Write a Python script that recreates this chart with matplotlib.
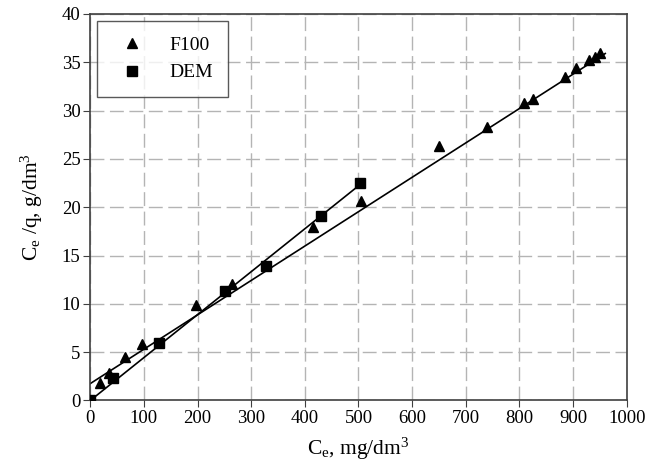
import matplotlib
matplotlib.use("Agg")
import matplotlib.pyplot as plt

plt.rcParams['font.family'] = ['Liberation Serif', 'DejaVu Serif']
plt.rcParams['mathtext.fontset'] = 'custom'
plt.rcParams['mathtext.rm'] = 'Liberation Serif'
plt.rcParams['mathtext.it'] = 'Liberation Serif:italic'

# F100 data
f100_x = [0, 18, 35, 65, 97, 197, 265, 415, 505, 650, 740, 808, 825, 885, 905, 930, 940, 950]
f100_y = [0, 1.8, 2.8, 4.5, 5.8, 9.9, 12.1, 17.9, 20.6, 26.3, 28.3, 30.8, 31.2, 33.5, 34.4, 35.2, 35.5, 36.0]

# DEM data
dem_x = [0, 42, 128, 252, 328, 430, 502]
dem_y = [0, 2.3, 5.9, 11.3, 13.9, 19.1, 22.5]

# fitted lines
f100_fit_x = [0, 960]
f100_fit_y = [1.75, 35.9]
dem_fit_x = [0, 502]
dem_fit_y = [0.0, 22.3]

fig = plt.figure(figsize=(6.59, 4.63), dpi=100)
ax = fig.add_axes([0.137, 0.135, 0.814, 0.835])

ax.plot(f100_fit_x, f100_fit_y, color='black', lw=1.2, zorder=2)
ax.plot(dem_fit_x, dem_fit_y, color='black', lw=1.2, zorder=2)
ax.plot(f100_x, f100_y, linestyle='none', marker='^', color='black', markersize=7.5, label='F100', zorder=3)
ax.plot(dem_x, dem_y, linestyle='none', marker='s', color='black', markersize=6.5, label='DEM', zorder=3)

ax.set_xlim(0, 1000)
ax.set_ylim(0, 40)
ax.set_xticks(range(0, 1001, 100))
ax.set_yticks(range(0, 41, 5))
ax.grid(True, color='#b4b4b4', linestyle=(0, (10, 4)), linewidth=1)
ax.set_axisbelow(True)
for s in ax.spines.values():
    s.set_color('#404040')
    s.set_linewidth(1.2)
ax.tick_params(direction='out', length=5, color='#404040', labelsize=13.5, pad=2)

ax.set_xlabel(r'C$_\mathrm{e}$, mg/dm$^3$', fontsize=15.5, labelpad=6)
ax.set_ylabel(r'C$_\mathrm{e}$ /q, g/dm$^3$', fontsize=15.5, labelpad=12)

leg = ax.legend(loc='upper left', bbox_to_anchor=(0.013, 0.982), borderaxespad=0,
                fontsize=14, frameon=True, fancybox=False, edgecolor='#303030',
                handletextpad=0.9, borderpad=0.8, handlelength=2.0, labelspacing=0.5)
leg.get_frame().set_linewidth(1.0)

fig.savefig('out.png', dpi=100)
